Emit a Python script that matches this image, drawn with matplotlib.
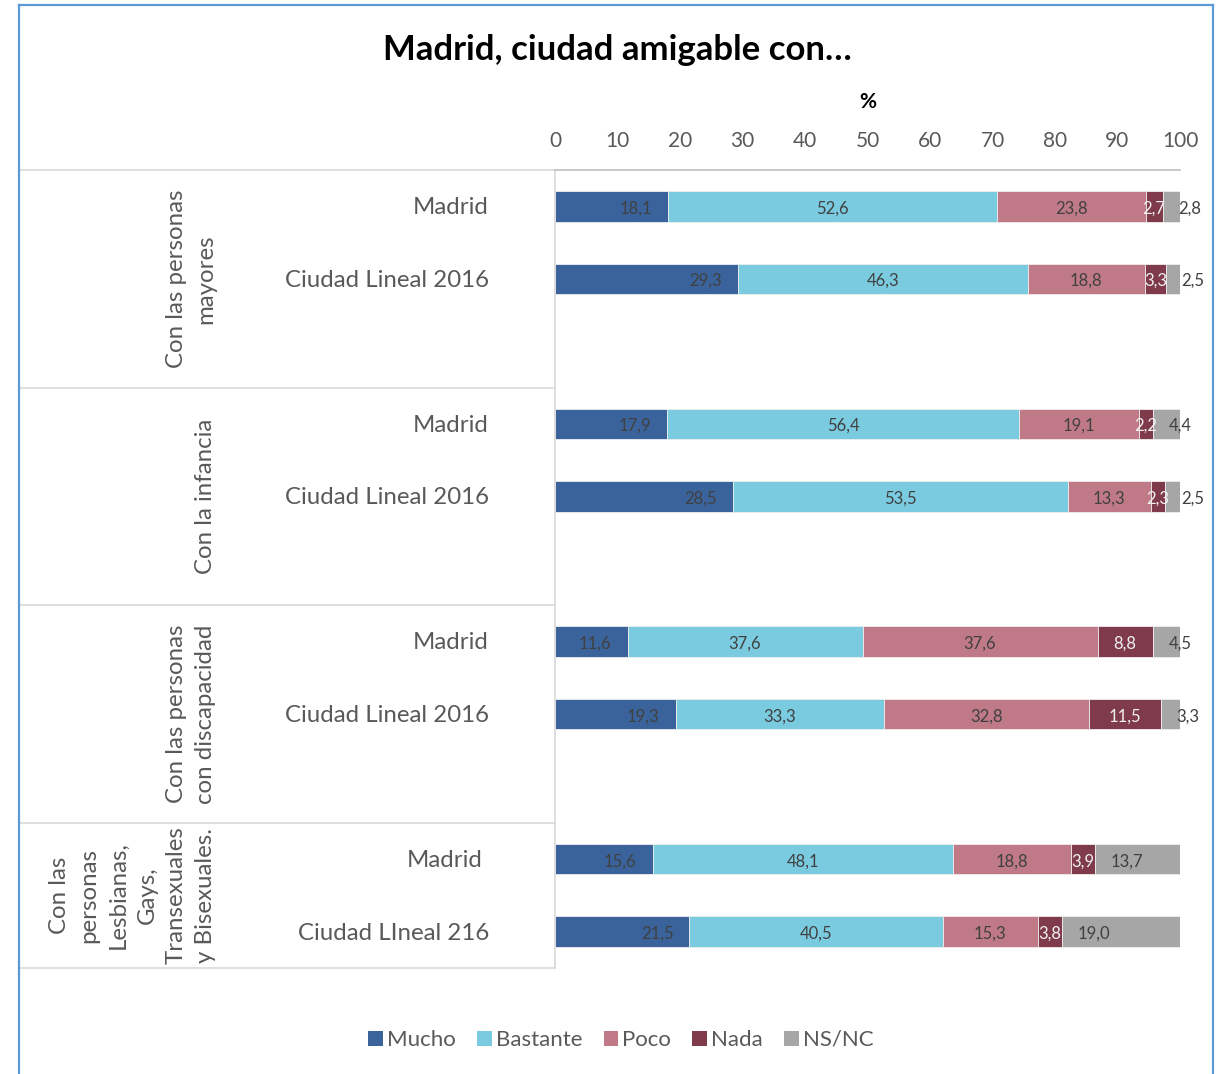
import matplotlib
matplotlib.use("Agg")
import matplotlib.pyplot as plt
from matplotlib.lines import Line2D
from matplotlib.patches import Patch
import matplotlib.transforms as mtransforms

plt.rcParams['font.family'] = ['Lato', 'DejaVu Sans']

# ---------------- data ----------------
title = "Madrid, ciudad amigable con…"
series = ["Mucho", "Bastante", "Poco", "Nada", "NS/NC"]
colors = ["#3A639C", "#7ACBE0", "#C07A87", "#7F3A4B", "#A6A6A6"]
groups = ["Con las personas\nmayores",
          "Con la infancia",
          "Con las personas\ncon discapacidad",
          "Con las\npersonas\nLesbianas,\nGays,\nTransexuales\ny Bisexuales."]
rows = ["Madrid", "Ciudad Lineal 2016",
        "Madrid", "Ciudad Lineal 2016",
        "Madrid", "Ciudad Lineal 2016",
        "Madrid", "Ciudad LIneal 216"]
mucho    = [18.1, 29.3, 17.9, 28.5, 11.6, 19.3, 15.6, 21.5]
bastante = [52.6, 46.3, 56.4, 53.5, 37.6, 33.3, 48.1, 40.5]
poco     = [23.8, 18.8, 19.1, 13.3, 37.6, 32.8, 18.8, 15.3]
nada     = [2.7, 3.3, 2.2, 2.3, 8.8, 11.5, 3.9, 3.8]
nsnc     = [2.8, 2.5, 4.4, 2.5, 4.5, 3.3, 13.7, 19.0]
xticks = [0, 10, 20, 30, 40, 50, 60, 70, 80, 90, 100]

values = [mucho, bastante, poco, nada, nsnc]
# slot positions: each group has 2 rows + 1 blank slot
slots = [0, 1, 3, 4, 6, 7, 9, 10]

W, H = 1225, 1074
fig = plt.figure(figsize=(W / 100, H / 100), dpi=100)
fig.patch.set_facecolor("white")

ax_l, ax_r, ax_t, ax_b = 555, 1180, 170, 968
ax = fig.add_axes([ax_l / W, 1 - ax_b / H, (ax_r - ax_l) / W, (ax_b - ax_t) / H])
ax.set_xlim(0, 100)
ax.set_ylim(10.5, -0.5)

px_per_unit = (ax_r - ax_l) / 100.0
offset_units = 16 / px_per_unit

label_dark = "#404040"
label_light = "#F0F0F0"
lab_fs = 12

left = [0.0] * len(slots)
for si, (vals, col) in enumerate(zip(values, colors)):
    ax.barh(slots, vals, left=left, height=0.42, color=col,
            edgecolor="#EEEEEE", linewidth=0.6, zorder=2)
    for y, v, l in zip(slots, vals, left):
        txt = f"{v:.1f}".replace(".", ",")
        yy = y + 0.03
        if si == 0:
            ax.text(l + v - offset_units, yy, txt, ha="right", va="center",
                    fontsize=lab_fs, color=label_dark, zorder=3)
        elif si == 4:
            ax.text(l + offset_units, yy, txt, ha="left", va="center",
                    fontsize=lab_fs, color=label_dark, zorder=3, clip_on=False)
        elif si == 3:
            ax.text(l + v / 2, yy, txt, ha="center", va="center",
                    fontsize=lab_fs, color=label_light, zorder=3)
        else:
            ax.text(l + v / 2, yy, txt, ha="center", va="center",
                    fontsize=lab_fs, color=label_dark, zorder=3)
    left = [a + b for a, b in zip(left, vals)]

# axes styling
ax.xaxis.tick_top()
ax.set_xticks(xticks)
ax.set_xticklabels([str(t) for t in xticks])
ax.tick_params(axis="x", length=0, pad=14, labelsize=15, labelcolor="#595959")
ax.set_yticks([])
for s in ["right", "bottom"]:
    ax.spines[s].set_visible(False)
ax.spines["top"].set_color("#BFBFBF")
ax.spines["top"].set_linewidth(1.2)
ax.spines["left"].set_color("#D9D9D9")
ax.spines["left"].set_linewidth(1.2)

ax.text(50, 1 - 102 / H, "%",
        transform=mtransforms.blended_transform_factory(ax.transData, fig.transFigure),
        ha="center", va="center", fontsize=15, fontweight="bold", color="black")

# category table on left
trans = mtransforms.blended_transform_factory(fig.transFigure, ax.transData)
for yb in [-0.5, 2.5, 5.5, 8.5, 10.5]:
    ax.add_line(Line2D([20 / W, ax_l / W], [yb, yb], transform=trans,
                       color="#D9D9D9", lw=1.2, clip_on=False))

row_x = [489, 489, 489, 489, 489, 489, 483, 489]
for y, name, rx in zip(slots, rows, row_x):
    ax.text(rx / W, y + 0.02, name, transform=trans, ha="right", va="center",
            fontsize=17.3, color="#595959")

group_centers = [1.0, 4.0, 7.0, 9.5]
for gc, g in zip(group_centers, groups):
    ax.text(216 / W, gc, g, transform=trans, ha="right", va="center",
            rotation=90, multialignment="center", fontsize=17.3,
            color="#595959", linespacing=1.48)

# title
fig.text(617 / W, 1 - 50 / H, title, ha="center", va="center",
         fontsize=25, fontweight="bold", color="black")

# legend
handles = [Patch(facecolor=c, edgecolor="none") for c in colors]
fig.legend(handles, series, loc="center", bbox_to_anchor=(621 / W, 1 - 1040 / H),
           ncol=5, frameon=False, fontsize=16, handlelength=0.65, handleheight=0.65,
           handletextpad=0.2, columnspacing=0.95, labelcolor="#595959")

# chart frame
frame_col = "#5B9BD5"
fig.add_artist(Line2D([19 / W, 19 / W], [0, 1 - 5 / H], transform=fig.transFigure, color=frame_col, lw=1.6))
fig.add_artist(Line2D([19 / W, 1213 / W], [1 - 5 / H, 1 - 5 / H], transform=fig.transFigure, color=frame_col, lw=1.6))
fig.add_artist(Line2D([1213 / W, 1213 / W], [0, 1 - 5 / H], transform=fig.transFigure, color=frame_col, lw=1.6))

fig.savefig("out.png", dpi=100)
